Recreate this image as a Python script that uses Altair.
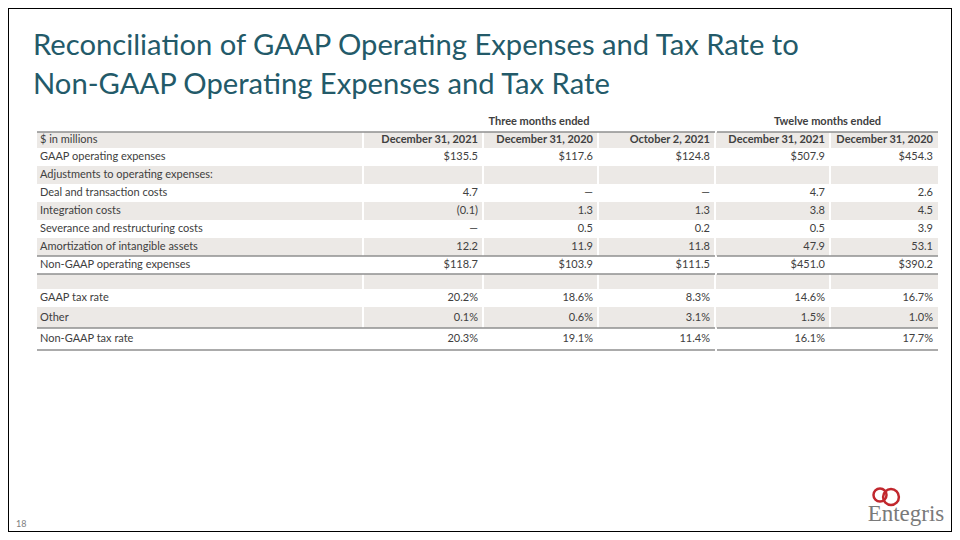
import altair as alt
import pandas as pd

# ---------------- data ----------------
title_lines = [
    "Reconciliation of GAAP Operating Expenses and Tax Rate to",
    "Non-GAAP Operating Expenses and Tax Rate",
]
group_headers = ["Three months ended", "Twelve months ended"]
unit_label = "$ in millions"
period_headers = [
    "December 31, 2021",
    "December 31, 2020",
    "October 2, 2021",
    "December 31, 2021",
    "December 31, 2020",
]
row_labels = [
    "GAAP operating expenses",
    "Adjustments to operating expenses:",
    "Deal and transaction costs",
    "Integration costs",
    "Severance and restructuring costs",
    "Amortization of intangible assets",
    "Non-GAAP operating expenses",
    "",
    "GAAP tax rate",
    "Other",
    "Non-GAAP tax rate",
]
q_dec_2021 = ["$135.5", "", "4.7", "(0.1)", "—", "12.2", "$118.7", "", "20.2%", "0.1%", "20.3%"]
q_dec_2020 = ["$117.6", "", "—", "1.3", "0.5", "11.9", "$103.9", "", "18.6%", "0.6%", "19.1%"]
q_oct_2021 = ["$124.8", "", "—", "1.3", "0.2", "11.8", "$111.5", "", "8.3%", "3.1%", "11.4%"]
y_dec_2021 = ["$507.9", "", "4.7", "3.8", "0.5", "47.9", "$451.0", "", "14.6%", "1.5%", "16.1%"]
y_dec_2020 = ["$454.3", "", "2.6", "4.5", "3.9", "53.1", "$390.2", "", "16.7%", "1.0%", "17.7%"]
value_columns = [q_dec_2021, q_dec_2020, q_oct_2021, y_dec_2021, y_dec_2020]
page_number = "18"
logo_word = "Entegris"

# ---------------- layout (reference pixel coordinates) ----------------
W, H = 944, 524
OFF = 8
col_edges = [37, 363, 483, 598, 715, 830, 938]
row_edges = [132, 148, 166, 184, 202, 220, 238, 256, 274, 289, 307, 328, 350]
shaded_rows = [0, 2, 4, 6, 8, 10]          # 0 = column-header row
rule_rows = [0, 7, 8, 11, 12]              # row edge indices carrying a rule
split_x = (715, 717)                       # gap between the two column groups
TEXT = "#404040"
FILL = "#ECE9E6"
LINE = "#8F8F8F"
TEAL = "#235A69"
FONT = "Lato"
FS = 11


def px(v):
    return v - OFF


bg_rows = []
for r in shaded_rows:
    for c in range(6):
        x1 = col_edges[c] + (1 if c > 0 else 0)
        x2 = col_edges[c + 1] - (1 if c < 5 else 0)
        bg_rows.append(dict(x=px(x1), x2=px(x2), y=px(row_edges[r]), y2=px(row_edges[r + 1])))
bg = pd.DataFrame(bg_rows)

rules = []
for ri in rule_rows:
    y = px(row_edges[ri])
    rules.append(dict(x=px(col_edges[0]), x2=px(split_x[0]), y=y))
    rules.append(dict(x=px(split_x[1]), x2=px(col_edges[-1]), y=y))
rules = pd.DataFrame(rules)


def yc(r):
    return px((row_edges[r] + row_edges[r + 1]) / 2)


labels = pd.DataFrame(
    [dict(x=px(col_edges[0] + 3), y=yc(0), t=unit_label)]
    + [dict(x=px(col_edges[0] + 3), y=yc(i + 1), t=lab) for i, lab in enumerate(row_labels)]
)
vals = pd.DataFrame(
    [dict(x=px(col_edges[c + 2] - 5), y=yc(i + 1), t=v)
     for c, col in enumerate(value_columns) for i, v in enumerate(col)]
)
heads = pd.DataFrame(
    [dict(x=px(col_edges[c + 2] - 5), y=yc(0), t=h) for c, h in enumerate(period_headers)]
)
groups = pd.DataFrame([
    dict(x=px((col_edges[1] + split_x[0]) / 2), y=px(122), t=group_headers[0]),
    dict(x=px((split_x[1] + col_edges[-1]) / 2), y=px(122), t=group_headers[1]),
])
titles = pd.DataFrame([
    dict(x=px(33), y=px(55), t=title_lines[0]),
    dict(x=px(33), y=px(94), t=title_lines[1]),
])
pg = pd.DataFrame([dict(x=px(16), y=px(527), t=page_number)])
logo_txt = pd.DataFrame([dict(x=px(906), y=px(521), t=logo_word)])
rings = pd.DataFrame([dict(x=px(880), y=px(495), s=170), dict(x=px(891), y=px(497), s=250)])
frame = pd.DataFrame([dict(x=0, x2=W, y=0, y2=H)])

xs = alt.Scale(domain=[0, W], nice=False, zero=False)
ys = alt.Scale(domain=[0, H], nice=False, zero=False, reverse=True)
X = lambda f="x": alt.X(f + ":Q", scale=xs, axis=None)
Y = lambda f="y": alt.Y(f + ":Q", scale=ys, axis=None)

bg_layer = alt.Chart(bg).mark_rect(fill=FILL).encode(x=X(), x2="x2:Q", y=Y(), y2="y2:Q")
rule_layer = alt.Chart(rules).mark_rule(color=LINE, strokeWidth=1.3).encode(x=X(), x2="x2:Q", y=Y())
label_layer = alt.Chart(labels).mark_text(align="left", baseline="middle", font=FONT, fontSize=FS, color=TEXT).encode(
    x=X(), y=Y(), text="t:N")
val_layer = alt.Chart(vals).mark_text(align="right", baseline="middle", font=FONT, fontSize=FS, color=TEXT).encode(
    x=X(), y=Y(), text="t:N")
head_layer = alt.Chart(heads).mark_text(align="right", baseline="middle", font=FONT, fontSize=FS, fontWeight="bold",
                                        color=TEXT).encode(x=X(), y=Y(), text="t:N")
group_layer = alt.Chart(groups).mark_text(align="center", baseline="middle", font=FONT, fontSize=FS, fontWeight="bold",
                                          color=TEXT).encode(x=X(), y=Y(), text="t:N")
title_layer = alt.Chart(titles).mark_text(align="left", baseline="alphabetic", font=FONT, fontSize=29.2,
                                          color=TEAL).encode(x=X(), y=Y(), text="t:N")
pg_layer = alt.Chart(pg).mark_text(align="left", baseline="alphabetic", font=FONT, fontSize=9,
                                   color="#808080").encode(x=X(), y=Y(), text="t:N")
logo_layer = alt.Chart(logo_txt).mark_text(align="center", baseline="alphabetic", font="Liberation Serif",
                                           fontSize=23, color="#7A7A7A").encode(x=X(), y=Y(), text="t:N")
ring_layer = alt.Chart(rings).mark_point(shape="circle", filled=False, color="#C1272D", strokeWidth=2.5,
                                         opacity=1).encode(x=X(), y=Y(), size=alt.Size("s:Q", scale=None, legend=None))
frame_layer = alt.Chart(frame).mark_rect(fill=None, stroke="black", strokeWidth=2).encode(
    x=X(), x2="x2:Q", y=Y(), y2="y2:Q")

chart = alt.layer(
    bg_layer, rule_layer, label_layer, val_layer, head_layer, group_layer,
    title_layer, pg_layer, ring_layer, logo_layer, frame_layer,
).properties(width=W, height=H, padding=0, autosize=alt.AutoSizeParams(type="none"), background="white"
).configure_view(stroke=None)

chart.save("out.html", embed_options={"renderer": "svg", "actions": False})
